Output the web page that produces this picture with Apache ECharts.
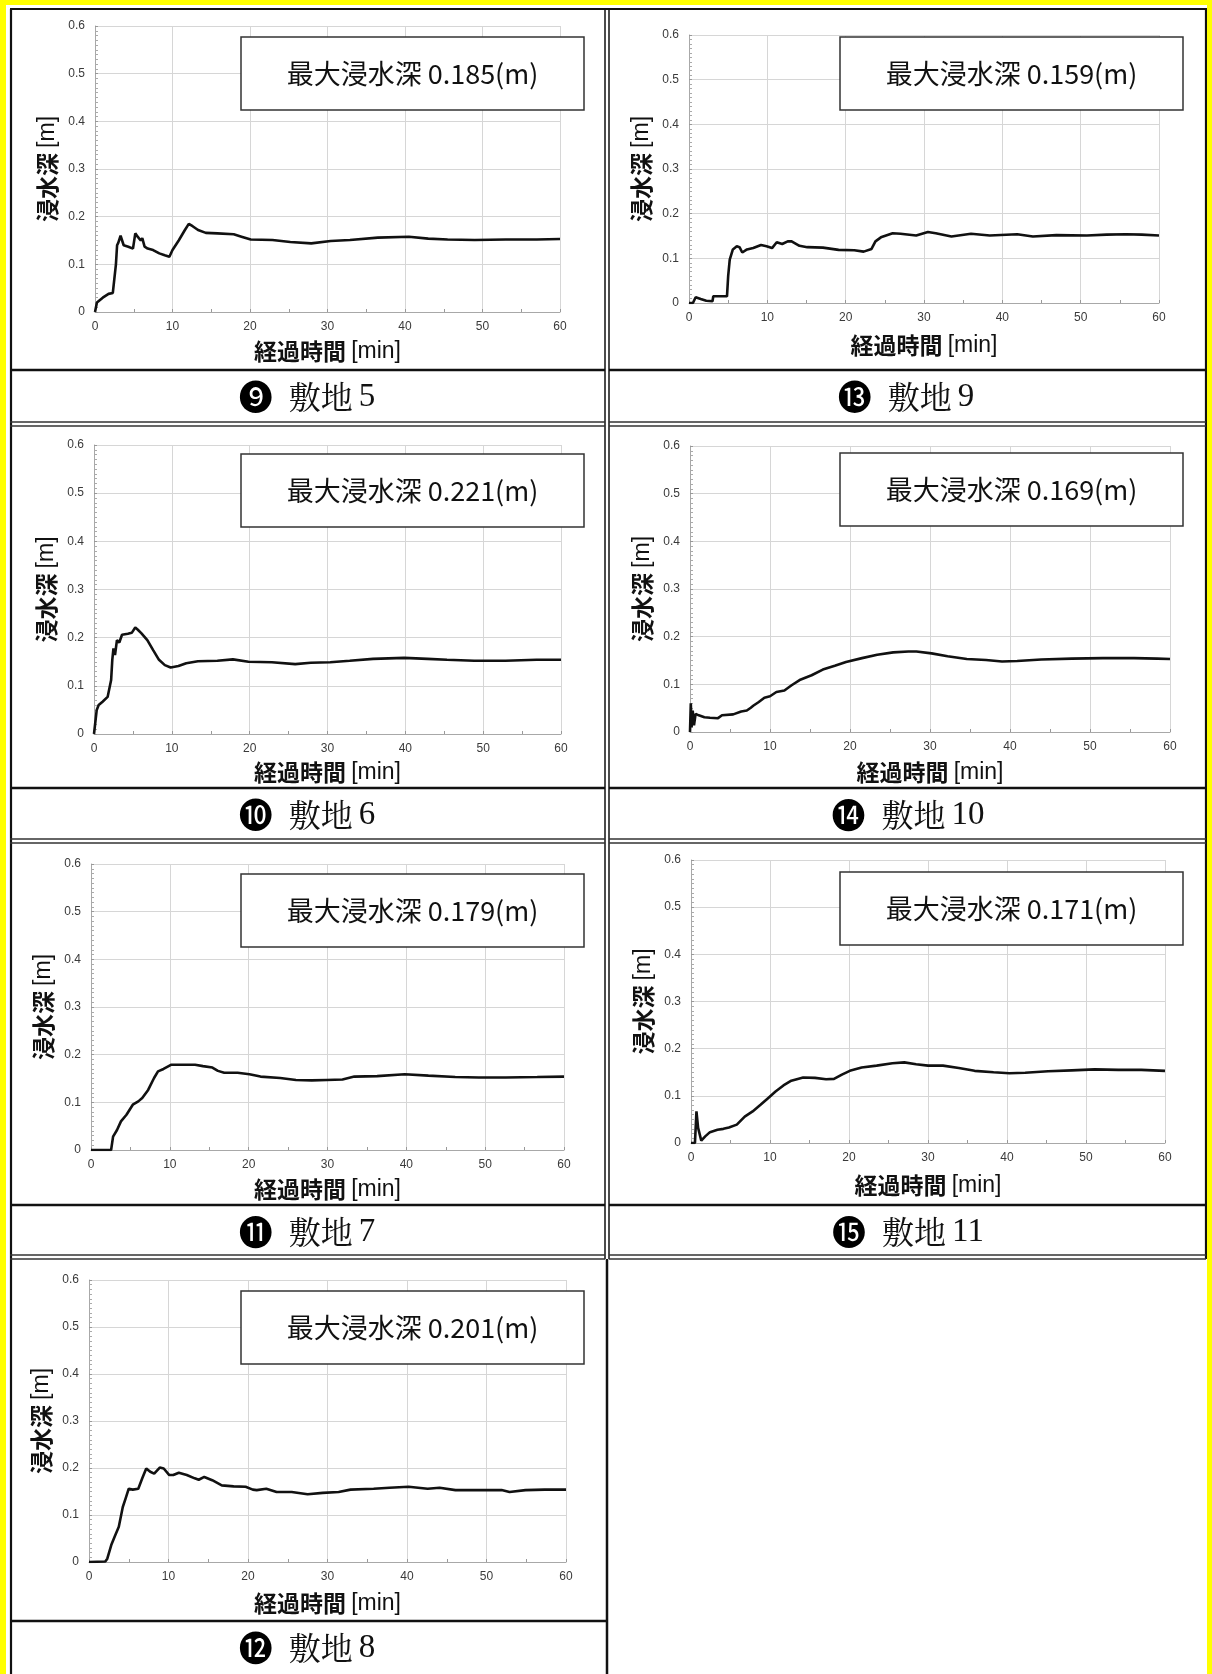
<!DOCTYPE html>
<html><head><meta charset="utf-8">
<script src="https://cdn.jsdelivr.net/npm/echarts@6/dist/echarts.min.js"></script>
<style>html,body{margin:0;padding:0;background:#fff}#c{width:1212px;height:1674px}</style>
</head><body><div id="c"></div><script>
// ---------------- DATA ----------------
const xRange = {min: 0, max: 60, step: 10};     // 経過時間 [min]
const yRange = {min: 0, max: 0.6, step: 0.1};   // 浸水深 [m]
const xNameParts = ['経過時間', '[min]'];
const yNameParts = ['浸水深', '[m]'];

const siteLabels = ['敷地', '敷地', '敷地', '敷地', '敷地', '敷地', '敷地'];
const siteNumbers = ['5', '9', '6', '10', '7', '11', '8'];
const siteMarks = ['❾', '⓭', '❿', '⓮', '⓫', '⓯', '⓬'];
const maxDepths = ['0.185', '0.159', '0.221', '0.169', '0.179', '0.171', '0.201'];

const site5 = [[0,0],[0.25,0.02],[1,0.03],[1.75,0.038],[2.3,0.04],[2.55,0.036],[2.7,0.1],[2.85,0.14],[3.0,0.145],[3.3,0.16],[3.7,0.14],[4.3,0.137],[4.9,0.133],[5.2,0.165],[5.5,0.158],[5.9,0.15],[6.1,0.155],[6.4,0.137],[6.8,0.133],[7.5,0.13],[8.3,0.123],[9,0.119],[9.6,0.116],[10,0.13],[10.8,0.15],[11.6,0.172],[12.1,0.185],[12.6,0.18],[13.3,0.172],[14.3,0.166],[15.8,0.165],[17.9,0.163],[18.9,0.158],[20.1,0.152],[22.9,0.151],[25.2,0.147],[27.9,0.144],[30.4,0.149],[32.9,0.151],[36.5,0.156],[40.5,0.158],[43,0.154],[45.5,0.152],[49,0.151],[53,0.152],[57,0.152],[60,0.153]];
const site9 = [[0,0],[0.5,0],[0.85,0.013],[1.5,0.009],[2.2,0.005],[3,0.004],[3.1,0.015],[4.85,0.015],[5.0,0.06],[5.2,0.097],[5.6,0.12],[6.1,0.127],[6.45,0.125],[6.8,0.113],[7.4,0.12],[8.2,0.123],[9.2,0.13],[9.9,0.127],[10.6,0.123],[11.2,0.136],[11.9,0.132],[12.6,0.138],[13.1,0.138],[14.1,0.128],[15.1,0.125],[17.1,0.124],[19.1,0.119],[21.1,0.118],[22.3,0.115],[23.3,0.121],[23.8,0.138],[24.5,0.147],[26,0.156],[27,0.155],[29,0.151],[30.5,0.159],[31.5,0.156],[33.5,0.149],[36,0.155],[38.4,0.151],[41.9,0.154],[43.9,0.149],[46.9,0.152],[50.8,0.151],[53.3,0.153],[55.8,0.154],[57.8,0.153],[60,0.151]];
const site6 = [[0,0],[0.25,0],[0.35,0.05],[0.6,0.06],[1.1,0.067],[1.75,0.077],[2,0.081],[2.2,0.112],[2.35,0.154],[2.5,0.178],[2.7,0.164],[2.95,0.195],[3.25,0.19],[3.6,0.206],[4.35,0.208],[4.85,0.21],[5.3,0.221],[5.6,0.217],[6.1,0.209],[6.85,0.195],[7.6,0.174],[8.35,0.154],[9.1,0.143],[9.85,0.138],[10.85,0.141],[11.85,0.147],[13.35,0.151],[15.85,0.152],[17.85,0.155],[19.85,0.15],[22.85,0.149],[25.85,0.145],[27.85,0.148],[30.35,0.149],[32.85,0.152],[35.85,0.156],[39.85,0.158],[42.85,0.156],[45.35,0.154],[48.85,0.152],[52.85,0.152],[56.85,0.154],[60,0.154]];
const site10 = [[0,0],[0.1,0.06],[0.2,0.01],[0.34,0.045],[0.5,0.014],[0.7,0.038],[1.1,0.035],[1.8,0.031],[2.5,0.03],[3.5,0.029],[4,0.035],[5.4,0.037],[6.4,0.043],[7.1,0.045],[7.6,0.051],[7.9,0.055],[8.6,0.063],[9.3,0.072],[10,0.075],[10.8,0.084],[11.8,0.087],[12.7,0.098],[13.7,0.109],[15.2,0.119],[16.6,0.131],[18.1,0.139],[19.5,0.147],[21.5,0.155],[23.4,0.162],[25.4,0.167],[27.3,0.169],[28.3,0.169],[30.2,0.165],[32.2,0.159],[34.6,0.153],[37,0.151],[39,0.148],[40.9,0.149],[43.9,0.152],[47.7,0.154],[51.6,0.155],[55.5,0.155],[58.4,0.154],[60,0.153]];
const site7 = [[0,0],[2.55,0],[2.8,0.028],[3.3,0.042],[3.8,0.06],[4.5,0.074],[5.3,0.095],[6,0.102],[6.5,0.109],[7.25,0.126],[8,0.151],[8.5,0.165],[9.2,0.17],[10.2,0.179],[11.7,0.179],[13.2,0.179],[14.2,0.176],[15.4,0.173],[16.1,0.166],[16.9,0.162],[18.6,0.162],[20.1,0.159],[21.5,0.154],[24,0.151],[26,0.147],[28,0.146],[29.9,0.147],[31.9,0.148],[33.4,0.154],[36.3,0.155],[39.8,0.159],[42.8,0.156],[46.2,0.153],[49.2,0.152],[52.6,0.152],[56.6,0.153],[60,0.154]];
const site11 = [[0,0],[0.5,0],[0.69,0.067],[0.9,0.032],[1.3,0.005],[1.8,0.014],[2.4,0.023],[3.35,0.028],[4.1,0.03],[4.8,0.033],[5.8,0.039],[6.8,0.056],[7.8,0.067],[8.8,0.081],[9.75,0.095],[10.7,0.109],[11.7,0.122],[12.7,0.132],[14.2,0.139],[15.7,0.138],[17.1,0.135],[18.1,0.136],[19.1,0.145],[20.1,0.153],[21.6,0.16],[23.5,0.164],[25.5,0.169],[27,0.171],[28.5,0.167],[30,0.164],[31.9,0.164],[33.9,0.159],[35.9,0.153],[38.3,0.15],[40.3,0.148],[42.3,0.149],[45.2,0.152],[48.2,0.154],[51.1,0.156],[54.1,0.155],[57,0.155],[60,0.153]];
const site8 = [[0,0],[2.05,0.001],[2.3,0.007],[2.8,0.036],[3.3,0.057],[3.75,0.075],[4.25,0.117],[4.6,0.135],[5,0.156],[5.5,0.154],[6.2,0.156],[6.7,0.178],[7.2,0.199],[7.7,0.192],[8.2,0.188],[8.9,0.201],[9.4,0.199],[10.1,0.185],[10.6,0.185],[11.3,0.19],[12.3,0.185],[13.3,0.178],[13.8,0.175],[14.5,0.181],[15.5,0.174],[16.7,0.163],[18.2,0.161],[19.7,0.16],[20.6,0.154],[21.1,0.153],[22.3,0.156],[23.6,0.149],[25.5,0.149],[27.5,0.144],[29.4,0.147],[31.4,0.149],[32.9,0.154],[35.8,0.156],[37.8,0.158],[40.2,0.16],[42.6,0.156],[44.1,0.158],[46.1,0.153],[49,0.153],[51.9,0.153],[52.9,0.149],[54.9,0.153],[57.3,0.154],[60,0.154]];

const siteSeries = [site5, site9, site6, site10, site7, site11, site8];

// ---------------- LAYOUT (positions only) ----------------
const panels = [
  {gx: 95,  gy: 26,   gw: 465, gh: 286, bx: 241, by: 37,   cx: 307, cy: 397,  ng: 28},
  {gx: 689, gy: 35,   gw: 470, gh: 268, bx: 840, by: 37,   cx: 906, cy: 397,  ng: 31},
  {gx: 94,  gy: 445,  gw: 467, gh: 289, bx: 241, by: 454,  cx: 307, cy: 815,  ng: 27},
  {gx: 690, gy: 446,  gw: 480, gh: 286, bx: 840, by: 453,  cx: 908, cy: 815,  ng: 29},
  {gx: 91,  gy: 864,  gw: 473, gh: 286, bx: 241, by: 874,  cx: 307, cy: 1232, ng: 28},
  {gx: 691, gy: 860,  gw: 474, gh: 283, bx: 840, by: 872,  cx: 908, cy: 1232, ng: 31},
  {gx: 89,  gy: 1280, gw: 477, gh: 282, bx: 241, by: 1291, cx: 307, cy: 1648, ng: 30}
];
const boxW = 343, boxH = 73;
const cjk = '"Noto Sans CJK JP", sans-serif';
const latin = '"Liberation Sans", Arial, sans-serif';

const grids = [], xAxes = [], yAxes = [], series = [];
panels.forEach((p, i) => {
  grids.push({left: p.gx, top: p.gy, width: p.gw, height: p.gh, containLabel: false, outerBoundsMode: 'none'});
  xAxes.push({
    type: 'value', gridIndex: i, min: xRange.min, max: xRange.max, interval: xRange.step,
    axisLine: {show: true, onZero: false, lineStyle: {color: '#a8a8a8', width: 1}},
    axisTick: {show: true, inside: true, length: 3, lineStyle: {color: '#999'}},
    minorTick: {show: true, splitNumber: 2, length: 3, lineStyle: {color: '#999'}},
    splitLine: {show: true, lineStyle: {color: '#d6d6d6', width: 1}},
    axisLabel: {fontSize: 12, color: '#3a3a3a', margin: 9, fontFamily: latin},
    name: '{a|' + xNameParts[0] + '} {b|' + xNameParts[1] + '}', nameLocation: 'middle', nameGap: p.ng,
    nameTextStyle: {fontSize: 23, color: '#111', fontFamily: cjk,
      rich: {a: {fontSize: 23, fontWeight: 'bold', fontFamily: cjk, color: '#111'},
             b: {fontSize: 23, fontWeight: 'normal', fontFamily: latin, color: '#111'}}}
  });
  yAxes.push({
    type: 'value', gridIndex: i, min: yRange.min, max: yRange.max, interval: yRange.step,
    axisLine: {show: true, lineStyle: {color: '#a8a8a8', width: 1}},
    axisTick: {show: true, inside: true, length: 3, lineStyle: {color: '#999'}},
    minorTick: {show: true, splitNumber: 10, length: 3, lineStyle: {color: '#aaa'}},
    splitLine: {show: true, lineStyle: {color: '#d6d6d6', width: 1}},
    axisLabel: {fontSize: 12, color: '#3a3a3a', margin: 10, fontFamily: latin,
      formatter: v => String(Math.round(v * 10) / 10)},
    name: '{a|' + yNameParts[0] + '} {b|' + yNameParts[1] + '}', nameLocation: 'middle', nameGap: 36, nameRotate: 90,
    nameTextStyle: {fontSize: 23, color: '#111', fontFamily: cjk,
      rich: {a: {fontSize: 23, fontWeight: 'bold', fontFamily: cjk, color: '#111'},
             b: {fontSize: 23, fontWeight: 'normal', fontFamily: latin, color: '#111'}}}
  });
  series.push({
    type: 'line', xAxisIndex: i, yAxisIndex: i, data: siteSeries[i],
    showSymbol: false, symbol: 'none', smooth: false,
    lineStyle: {color: '#111', width: 2.6}, animation: false, z: 5
  });
});

// ---------------- TABLE / ANNOTATION GRAPHICS ----------------
const g = [];
const Y = '#ffff00', K = '#111';
function ln(x1, y1, x2, y2, w, c) { g.push({type: 'line', z: 50, shape: {x1, y1, x2, y2}, style: {stroke: c || K, lineWidth: w}}); }

// yellow frame
g.push({type: 'rect', z: 60, shape: {x: 0, y: 0, width: 6, height: 1674}, style: {fill: Y}});
g.push({type: 'rect', z: 60, shape: {x: 0, y: 0, width: 1212, height: 5}, style: {fill: Y}});
g.push({type: 'rect', z: 60, shape: {x: 1207, y: 0, width: 5, height: 1674}, style: {fill: Y}});

// outer borders
ln(11, 9, 11, 1674, 2.2);
ln(10, 9, 1207, 9, 2.2);
ln(1206, 9, 1206, 1259, 2.2);
// column divider
ln(605, 9, 605, 1259, 1.5);
ln(609, 9, 609, 1259, 1.5);
ln(607, 1259, 607, 1674, 2.5);
// caption separators
[370, 788, 1205].forEach(y => { ln(10, y, 605, y, 2.5); ln(609, y, 1206, y, 2.5); });
ln(10, 1621, 607, 1621, 2.5);
// row bottoms (double lines)
[424, 841, 1257].forEach(y => {
  ln(10, y - 2, 605, y - 2, 1.5, '#333'); ln(10, y + 2, 605, y + 2, 1.5, '#333');
  ln(609, y - 2, 1206, y - 2, 1.5, '#333'); ln(609, y + 2, 1206, y + 2, 1.5, '#333');
});

panels.forEach((p, i) => {
  // annotation box
  g.push({type: 'rect', z: 40, shape: {x: p.bx, y: p.by, width: boxW, height: boxH},
    style: {fill: '#fff', stroke: '#333', lineWidth: 1.5}});
  g.push({type: 'text', z: 41, x: p.bx + boxW / 2, y: p.by + boxH / 2,
    style: {text: '最大浸水深 ' + maxDepths[i] + '(m)', fill: '#111', align: 'center', verticalAlign: 'middle',
      font: '27px "Noto Sans CJK JP", sans-serif'}});
  // caption
  g.push({type: 'text', z: 41, x: p.cx, y: p.cy,
    style: {text: '{m|' + siteMarks[i] + '}{t|' + siteLabels[i] + '}{n|' + siteNumbers[i] + '}',
      align: 'center', verticalAlign: 'middle',
      rich: {
        m: {fontSize: 34, fill: '#000', fontFamily: '"Noto Sans CJK JP", "DejaVu Sans", sans-serif', padding: [0, 16, 0, 0]},
        t: {fontSize: 32, fill: '#111', fontFamily: '"Noto Serif CJK JP", "Noto Sans CJK JP", serif'},
        n: {fontSize: 33, fill: '#111', fontFamily: '"Liberation Serif", "DejaVu Serif", serif', padding: [0, 0, 0, 6]}
      }}});
});

const chart = echarts.init(document.getElementById('c'), null, {renderer: 'canvas'});
chart.setOption({
  backgroundColor: '#fff',
  animation: false,
  grid: grids, xAxis: xAxes, yAxis: yAxes, series: series,
  graphic: g
});
</script></body></html>
